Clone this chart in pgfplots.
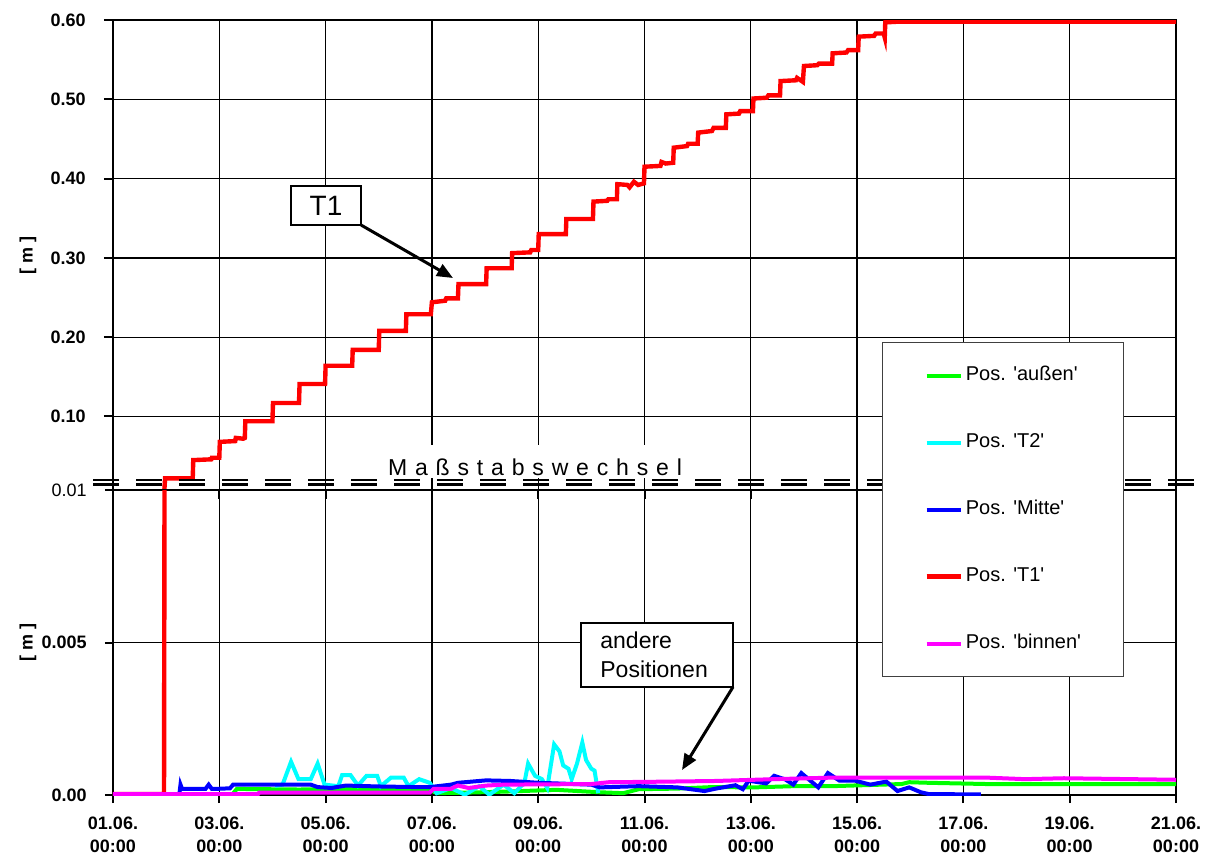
\documentclass[border=0pt]{standalone}
\usepackage{fontspec}
\setmainfont{Liberation Sans}
\newfontfamily\arial{Liberation Sans}
\usepackage{pgfplots}
\pgfplotsset{compat=1.18}
\usepackage{pgfplotstable}
\usetikzlibrary{arrows.meta}

\pgfplotstableread{
d v
0 0.00003
0.96 0.00003
0.98 0.022
1.50 0.022
1.51 0.045
1.85 0.046
1.86 0.048
2.00 0.048
2.01 0.068
2.30 0.069
2.31 0.073
2.45 0.072
2.48 0.073
2.49 0.094
3.00 0.094
3.01 0.117
3.50 0.117
3.51 0.141
3.99 0.141
4.00 0.164
4.50 0.164
4.51 0.184
5.00 0.184
5.01 0.208
5.51 0.208
5.52 0.229
5.98 0.229
6.00 0.244
6.25 0.246
6.27 0.249
6.49 0.249
6.50 0.267
7.02 0.267
7.03 0.287
7.50 0.287
7.51 0.306
7.85 0.307
7.87 0.310
8.00 0.310
8.01 0.330
8.52 0.330
8.53 0.349
9.03 0.349
9.04 0.371
9.30 0.372
9.32 0.374
9.48 0.374
9.49 0.393
9.68 0.392
9.72 0.389
9.80 0.396
9.88 0.392
9.99 0.394
10.00 0.415
10.30 0.416
10.32 0.421
10.40 0.419
10.54 0.420
10.55 0.439
10.80 0.441
10.82 0.444
11.00 0.444
11.01 0.458
11.27 0.460
11.30 0.464
11.53 0.464
11.54 0.481
11.78 0.482
11.80 0.485
12.04 0.485
12.05 0.501
12.30 0.502
12.33 0.505
12.55 0.505
12.56 0.523
12.85 0.524
12.87 0.527
12.98 0.522
13.00 0.542
13.25 0.543
13.28 0.545
13.53 0.545
13.54 0.558
13.80 0.559
13.83 0.562
14.02 0.562
14.03 0.579
14.32 0.580
14.35 0.583
14.50 0.583
14.52 0.578
14.53 0.597
14.80 0.598
20.00 0.598
}\redT

\pgfplotstableread{
d v
0 0.00003
2.25 0.00003
2.33 0.00020
3.50 0.00018
4.50 0.00020
5.96 0.00017
6.09 0.00006
6.69 0.00008
7.35 0.00011
8.34 0.00017
9.16 0.00009
9.60 0.00006
9.89 0.00019
10.62 0.00021
11.27 0.00026
12.07 0.00025
12.80 0.00029
13.53 0.00029
14.84 0.00036
14.98 0.00042
15.35 0.00040
16.44 0.00036
17.89 0.00036
20.00 0.00036
}\greenT

\pgfplotstableread{
d v
3.05 0.00030
3.19 0.00034
3.35 0.00109
3.49 0.00052
3.72 0.00052
3.85 0.00103
3.98 0.00034
4.24 0.00029
4.31 0.00065
4.47 0.00065
4.61 0.00031
4.77 0.00063
4.97 0.00063
5.04 0.00029
5.23 0.00057
5.47 0.00057
5.56 0.00029
5.76 0.00052
5.96 0.00040
6.09 0.00006
6.36 0.00023
6.62 0.00001
6.89 0.00029
7.08 0.00001
7.35 0.00034
7.55 0.00006
7.74 0.00040
7.81 0.00103
7.94 0.00063
8.07 0.00052
8.17 0.00023
8.30 0.00166
8.40 0.00143
8.47 0.00097
8.57 0.00086
8.63 0.00052
8.73 0.00103
8.83 0.00172
8.90 0.00115
9.00 0.00086
9.06 0.00080
9.13 0.00006
}\cyanT

\pgfplotstableread{
d v
1.25 0.00005
1.27 0.00034
1.30 0.00020
1.74 0.00020
1.80 0.00034
1.86 0.00020
1.93 0.00020
2.20 0.00022
2.26 0.00034
3.72 0.00034
3.85 0.00026
4.11 0.00023
4.38 0.00031
5.00 0.00028
5.70 0.00026
5.96 0.00026
6.36 0.00034
6.49 0.00040
7.02 0.00048
7.48 0.00046
8.01 0.00040
8.34 0.00038
9.00 0.00034
9.16 0.00025
9.89 0.00029
10.62 0.00025
11.13 0.00013
11.34 0.00021
11.71 0.00032
11.85 0.00019
11.96 0.00047
12.29 0.00038
12.44 0.00063
12.65 0.00051
12.80 0.00034
12.95 0.00072
13.27 0.00025
13.45 0.00072
13.67 0.00047
13.96 0.00047
14.25 0.00034
14.55 0.00044
14.76 0.00013
14.98 0.00025
15.20 0.00009
15.35 0.00003
16.33 0.00002
}\blueT

\pgfplotstableread{
d v
0 0.00003
2.73 0.00003
2.75 0.00008
5.96 0.00008
6.03 0.00020
6.36 0.00020
6.42 0.00026
6.49 0.00031
6.69 0.00023
7.02 0.00031
7.35 0.00034
9.00 0.00036
9.33 0.00042
10.00 0.00043
11.34 0.00046
12.44 0.00052
13.53 0.00057
16.44 0.00057
17.16 0.00052
17.89 0.00055
20.00 0.00050
}\magT

\begin{document}
\begin{tikzpicture}[x=1pt,y=1pt]
\useasboundingbox (-56.5,-32) rectangle (548,397.5);
\pgfplotsset{
 common/.style={
  scale only axis, width=531.5pt, xmin=0, xmax=20,
  xtick={0,2,...,20},
  grid=major, major grid style={black, line width=0.65pt},
  axis line style={line width=1.3pt},
  tick style={black, line width=1pt},
  tick align=outside, major tick length=4.5pt,
  tick pos=left,
  scaled y ticks=false,
  yticklabel style={font=\bfseries\fontsize{9}{10}\selectfont, inner sep=0pt, xshift=-9pt},
  ylabel style={at={(axis description cs:-0.08,0.5)}, anchor=center, font=\bfseries\fontsize{9}{10}\selectfont},
 }
}
% upper part
\begin{axis}[common, at={(0,152.5pt)}, anchor=south west, height=235pt,
  ymin=0.0073, ymax=0.6,
  ytick={0.1,0.2,0.3,0.4,0.5,0.6}, yticklabels={0.10,0.20,0.30,0.40,0.50,0.60},
  xticklabels={},
  ylabel={[ m ]}]
\addplot[red, line width=2.2pt] table {\redT};
\end{axis}
\node[anchor=base, fill=white, inner xsep=3pt, inner ysep=0pt, text height=15pt, text depth=1.5pt, font=\fontsize{11.5}{12}\selectfont] at (211,160) {\makebox[147pt][s]{M a ß s t a b s w e c h s e l}};
\draw[line width=1.2pt, dash pattern=on 13pt off 8.5pt] (-10,157.5) -- (541,157.5);
\draw[line width=1.2pt, dash pattern=on 13pt off 8.5pt] (-10,155.2) -- (541,155.2);
% lower part
\begin{axis}[common, at={(0,0)}, anchor=south west, height=152.5pt,
  ymin=0, ymax=0.01,
  ytick={0,0.005,0.01}, yticklabels={0.00,0.005,{\mdseries 0.01}},
  xticklabels={{01.06.\\00:00},{03.06.\\00:00},{05.06.\\00:00},{07.06.\\00:00},{09.06.\\00:00},{11.06.\\00:00},{13.06.\\00:00},{15.06.\\00:00},{17.06.\\00:00},{19.06.\\00:00},{21.06.\\00:00}},
  xticklabel style={align=center, font=\bfseries\fontsize{9}{11.5}\selectfont, inner sep=0pt, yshift=-7pt},
  major tick length=4pt,
  ylabel={[ m ]},
  legend style={at={(axis description cs:0.7234,1.485)}, anchor=north west, draw=black!75, line width=0.5pt, fill=white,
    font=\arial\fontsize{10}{12}\selectfont, inner xsep=21pt, inner ysep=12pt, row sep=24.5pt, column sep=1.5pt,
    nodes={inner sep=0pt, text height=7pt, text depth=2pt}, cells={anchor=west}},
  legend image code/.code={\draw[#1] (0pt,0pt) -- (17pt,0pt);},
  ]
\addplot[color={rgb,1:red,0;green,1;blue,0}, line width=2pt] table {\greenT};
\addlegendentry{Pos. 'außen'}
\addplot[color={rgb,1:red,0;green,1;blue,1}, line width=2pt] table {\cyanT};
\addlegendentry{Pos. 'T2'}
\addplot[color={rgb,1:red,0;green,0;blue,1}, line width=2pt] table {\blueT};
\addlegendentry{Pos. 'Mitte'}
\addplot[color={rgb,1:red,1;green,0;blue,0}, line width=2.2pt] table {\redT};
\addlegendentry{Pos. 'T1'}
\addplot[color={rgb,1:red,1;green,0;blue,1}, line width=2pt] table {\magT};
\addlegendentry{Pos. 'binnen'}
\end{axis}
% annotations
\draw[line width=1pt, fill=white] (89,285) rectangle (124,304.5);
\node[font=\fontsize{14}{14}\selectfont] at (106.5,294.75) {T1};
\draw[line width=1.5pt, -{Triangle[length=8pt,width=6.5pt]}] (124,285) -- (170,258.5);
\draw[line width=1pt, fill=white] (234,54) rectangle (310,86);
\node[anchor=base west, inner sep=0pt, font=\fontsize{11.5}{14}\selectfont] at (243.5,73.5) {andere};
\node[anchor=base west, inner sep=0pt, font=\fontsize{11.5}{14}\selectfont] at (243.5,59) {Positionen};
\draw[line width=1.5pt, -{Triangle[length=8pt,width=6.5pt]}] (310,54) -- (284.5,12.5);
\end{tikzpicture}
\end{document}
